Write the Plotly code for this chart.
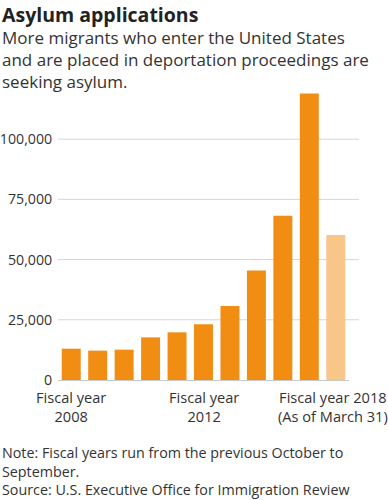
import plotly.graph_objects as go

years = ["2008", "2009", "2010", "2011", "2012", "2013", "2014", "2015", "2016", "2017", "2018"]
applications = [13000, 12200, 12600, 17700, 19800, 23100, 30700, 45500, 68200, 119000, 60200]
bar_colors = ["#F18D13"] * 10 + ["#F9C68A"]
y_ticks = [0, 25000, 50000, 75000, 100000]
x_label_at = ["2008", "2013", "2018"]
x_label_text = ["Fiscal year<br>2008", "Fiscal year<br>2012", "Fiscal year 2018<br>(As of March 31)"]
x_label_shift = [0, 0, -3]

title = "Asylum applications"
subtitle = "More migrants who enter the United States<br>and are placed in deportation proceedings are<br>seeking asylum."
note = "Note: Fiscal years run from the previous October to<br>September.<br>Source: U.S. Executive Office for Immigration Review"

W, H = 388, 500
L, R, T, B = 58, 39, 91, 120
pw = W - L - R
ph = H - T - B

def px(x):
    return (x - L) / pw

def py(y):
    return (H - B - y) / ph

font = "Open Sans"
fig = go.Figure()
fig.add_trace(go.Bar(x=years, y=applications, marker=dict(color=bar_colors, line=dict(width=0)),
                     hoverinfo="x+y"))

shapes = []
for v in y_ticks[1:]:
    shapes.append(dict(type="line", xref="paper", yref="y", x0=0, x1=px(359), y0=v, y1=v,
                       line=dict(color="#D6D6D6", width=1), layer="below"))

annotations = [
    dict(text="<b>" + title + "</b>", xref="paper", yref="paper", x=px(0), y=py(-1),
         xanchor="left", yanchor="top", showarrow=False, align="left",
         font=dict(family=font, size=19.5, color="#222222")),
    dict(text=subtitle, xref="paper", yref="paper", x=px(0), y=py(24),
         xanchor="left", yanchor="top", showarrow=False, align="left",
         font=dict(family=font, size=17, color="#333333")),
    dict(text=note, xref="paper", yref="paper", x=px(0), y=py(441),
         xanchor="left", yanchor="top", showarrow=False, align="left",
         font=dict(family=font, size=14.3, color="#333333")),
]
for cat, txt, sh in zip(x_label_at, x_label_text, x_label_shift):
    annotations.append(dict(text=txt, xref="x", yref="paper", x=years.index(cat), y=0,
                            yshift=-5, xshift=sh,
                            xanchor="center", yanchor="top", showarrow=False, align="center",
                            font=dict(family=font, size=14.6, color="#333333")))

fig.update_layout(
    width=W, height=H,
    margin=dict(l=L, r=R, t=T, b=B, pad=0, autoexpand=False),
    paper_bgcolor="white", plot_bgcolor="white",
    showlegend=False,
    bargap=0.283,
    font=dict(family=font, color="#333333", size=15),
    xaxis=dict(type="category", showticklabels=False, range=[-0.5, len(years) - 0.5],
               showgrid=False, showline=True, linecolor="#C8C8C8", linewidth=1,
               ticks="", automargin=False),
    yaxis=dict(range=[0, 120000], tickvals=y_ticks, tickformat=",", showgrid=False,
               zeroline=False, showline=False, ticks="outside", ticklen=2,
               tickcolor="rgba(0,0,0,0)", automargin=False,
               tickfont=dict(family=font, size=14.2, color="#333333")),
    shapes=shapes,
    annotations=annotations,
)

fig.write_html("out.html", config={"displayModeBar": False},
               post_script="document.body.style.margin='0';document.body.style.padding='0';")
